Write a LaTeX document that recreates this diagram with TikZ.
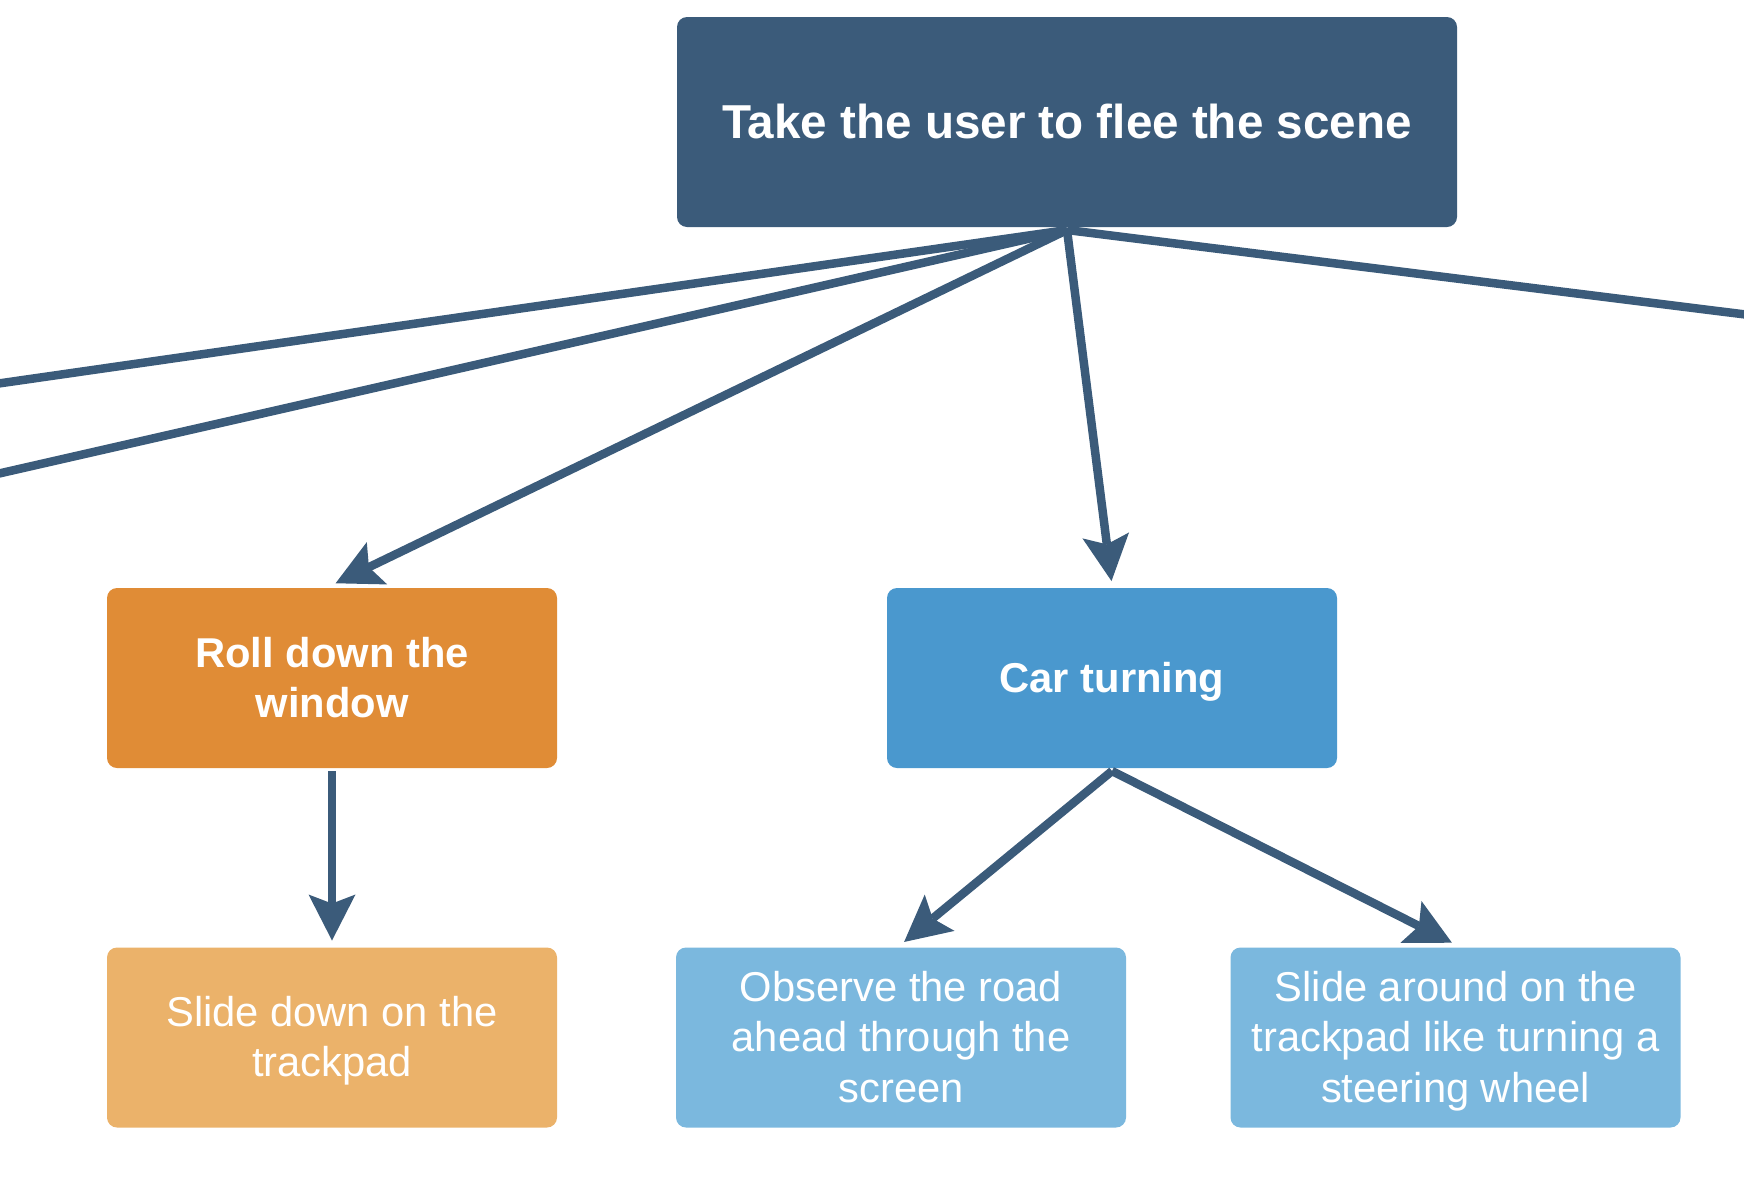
\documentclass[tikz,border=0pt]{standalone}
\usepackage{fontspec}
\setmainfont{Liberation Sans}
\usetikzlibrary{arrows.meta}
\definecolor{cNavy}{HTML}{3B5B7A}
\definecolor{cOrange}{HTML}{E08C36}
\definecolor{cLOrange}{HTML}{EBB26A}
\definecolor{cBlue}{HTML}{4A98CE}
\definecolor{cLBlue}{HTML}{7BB8DE}
\newcommand{\lstrut}{\rule[-0.2535em]{0pt}{1.2em}}
\begin{document}
\begin{tikzpicture}[x=1pt,y=-1pt,
  box/.style={rectangle, rounded corners=10pt, minimum width=450pt, minimum height=180pt,
    inner sep=0pt, outer sep=3pt, text=white, align=center,
    font=\fontsize{41.7pt}{50.04pt}\selectfont},
  boldbox/.style={box, font=\fontsize{41.7pt}{50.04pt}\selectfont\bfseries},
  conn/.style={draw=cNavy, line width=8.5pt},
  arr/.style={conn, -{Stealth[length=46pt,width=47pt,inset=9pt,line width=0pt]}, shorten >=4pt}
]
\useasboundingbox (0,0) rectangle (1744,1192);
\clip (0,0) rectangle (1744,1192);

\node[box, fill=cNavy, minimum width=780pt, minimum height=210pt,
      font=\fontsize{47.6pt}{57.12pt}\selectfont\bfseries] (title) at (1067,122)
      {\lstrut Take the user to flee the scene};

\node[boldbox, fill=cOrange] (roll) at (332,678) {\lstrut Roll down the\\\lstrut window};
\node[boldbox, fill=cBlue] (car) at (1112,678) {\lstrut Car turning};

\node[box, fill=cLOrange] (slidedown) at (332,1037.5) {\lstrut Slide down on the\\\lstrut trackpad};
\node[box, fill=cLBlue] (observe) at (901,1037.5) {\lstrut Observe the road\\\lstrut ahead through the\\\lstrut screen};
\node[box, fill=cLBlue] (slidearound) at (1455.5,1037.5) {\lstrut Slide around on the\\\lstrut trackpad like turning a\\\lstrut steering wheel};

\coordinate (L1) at (-300,426.4);
\coordinate (L2) at (-300,541.7);
\coordinate (R1) at (2044,351.7);

\draw[conn] (title.south) -- (L1);
\draw[conn] (title.south) -- (L2);
\draw[conn] (title.south) -- (R1);
\draw[arr] (title.south) -- (roll.north);
\draw[arr] (title.south) -- (car.north);
\draw[arr] (roll.south) -- (slidedown.north);
\draw[arr] (car.south) -- (observe.north);
\draw[arr] (car.south) -- (slidearound.north);
\end{tikzpicture}
\end{document}
